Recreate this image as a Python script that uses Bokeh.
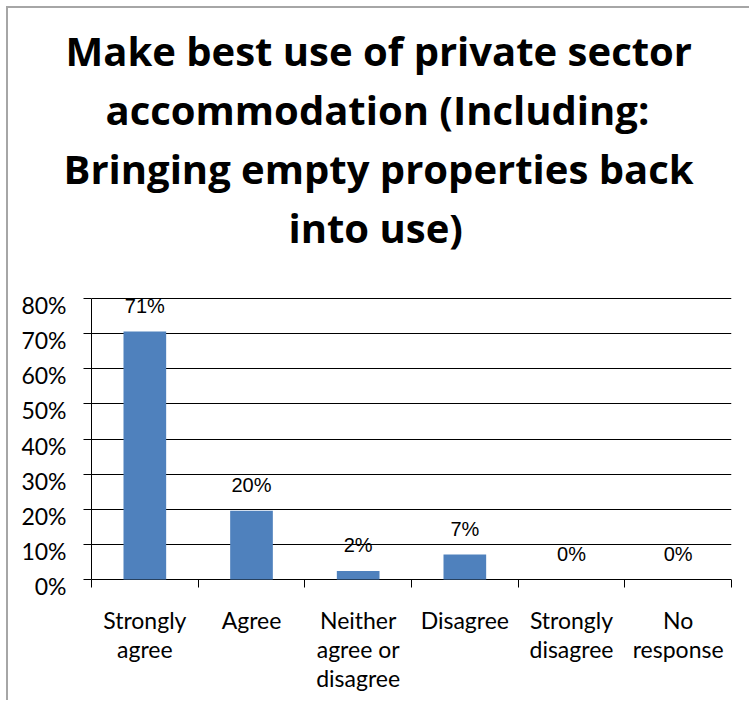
from bokeh.plotting import figure
from bokeh.models import (Range1d, FixedTicker, NumeralTickFormatter, LabelSet, Title,
                          ColumnDataSource, LinearAxis)
from bokeh.core.properties import value
from bokeh.embed import file_html
from bokeh.resources import INLINE

# ---- data ----
categories = ["Strongly agree", "Agree", "Neither agree or disagree",
              "Disagree", "Strongly disagree", "No response"]
category_labels = ["Strongly\nagree", "Agree", "Neither\nagree or\ndisagree",
                   "Disagree", "Strongly\ndisagree", "No\nresponse"]
values = [0.706, 0.196, 0.024, 0.071, 0.0, 0.0]
y_ticks = [0.0, 0.1, 0.2, 0.3, 0.4, 0.5, 0.6, 0.7, 0.8]
title_lines = ["Make best use of private sector",
               "accommodation (Including:",
               "Bringing empty properties back",
               "into use)"]

W, H = 743, 694
FRAME_TOP, GRID_TOP, ZERO_Y, FRAME_BOTTOM = 247, 290, 571, 579   # canvas px
FRAME_LEFT, FRAME_RIGHT = 83, 723

n = len(categories)
centers = [i + 0.5 for i in range(n)]
bounds = [float(i) for i in range(n + 1)]
pct_text = [f"{round(v * 100)}%" for v in values]

src = ColumnDataSource(dict(x=centers, top=values, label=pct_text, cat=categories))

ymax = y_ticks[-1]
per_px = ymax / (ZERO_Y - GRID_TOP)
ystart = -(FRAME_BOTTOM - ZERO_Y) * per_px
yend = ymax + (GRID_TOP - FRAME_TOP) * per_px
drop = 6.5 * per_px                 # tick labels sit a little below their grid lines

p = figure(width=W, height=H, output_backend="svg", toolbar_location=None, title=None,
           x_range=Range1d(0, n), y_range=Range1d(ystart, yend),
           min_border_left=FRAME_LEFT, min_border_right=W - FRAME_RIGHT,
           min_border_top=FRAME_TOP, min_border_bottom=H - FRAME_BOTTOM)
p.extra_y_ranges = {"lab": Range1d(ystart + drop, yend + drop)}
p.outline_line_color = None
p.background_fill_color = "white"
p.border_fill_color = "white"
p.styles = {"margin-left": "6px", "margin-top": "6px",
            "border-left": "2px solid #a6a6a6", "border-top": "2px solid #a6a6a6"}

p.vbar(x="x", top="top", width=0.4, bottom=0, source=src,
       fill_color="#4F81BD", line_color=None)

# grid (the 0% grid line doubles as the category axis line)
p.xgrid.grid_line_color = None
p.ygrid.grid_line_color = "black"
p.ygrid.grid_line_width = 1
p.ygrid.ticker = FixedTicker(ticks=y_ticks)

# y axis (line + tick marks, no labels)
ya = p.yaxis[0]
ya.ticker = FixedTicker(ticks=[], minor_ticks=y_ticks)
ya.bounds = (0, ymax)
ya.axis_line_color = "black"
ya.minor_tick_line_color = "black"
ya.minor_tick_out = 8
ya.minor_tick_in = 0
ya.major_tick_out = 8
ya.major_tick_in = 0
ya.major_label_standoff = 0

# y axis tick labels
yl = LinearAxis(y_range_name="lab", ticker=FixedTicker(ticks=y_ticks, minor_ticks=[]),
                formatter=NumeralTickFormatter(format="0%"))
yl.axis_line_color = None
yl.major_tick_line_color = None
yl.minor_tick_line_color = None
yl.major_tick_out = 0
yl.major_tick_in = 0
yl.major_label_standoff = 17
yl.major_label_text_font = "Lato"
yl.major_label_text_font_size = "23px"
yl.major_label_text_color = "black"
p.add_layout(yl, "left")

# x axis (category boundary ticks hang from the 0% line)
gap = FRAME_BOTTOM - ZERO_Y
xa = p.xaxis[0]
xa.ticker = FixedTicker(ticks=centers, minor_ticks=bounds)
xa.major_label_overrides = {c: lab for c, lab in zip(centers, category_labels)}
xa.axis_line_color = None
xa.major_tick_line_color = None
xa.major_tick_out = 0
xa.major_tick_in = 0
xa.minor_tick_line_color = "black"
xa.minor_tick_out = 8 - gap
xa.minor_tick_in = gap
xa.major_label_standoff = 18
xa.major_label_text_font = "Lato"
xa.major_label_text_font_size = "23px"
xa.major_label_text_line_height = 1.05
xa.major_label_text_color = "black"
xa.major_label_text_align = "center"

# data labels
p.add_layout(LabelSet(x="x", y="top", text="label", source=src, y_offset=19,
                      text_align="center", text_baseline="alphabetic",
                      text_font=value("Liberation Sans"), text_font_size="20px",
                      text_color="black"))

# title: one Title per line, nearest the plot first
lefts = [-26, 14, -28, 197]
for line, off in reversed(list(zip(title_lines, lefts))):
    p.add_layout(Title(text=line, align="left", offset=off, standoff=2,
                       text_font="Open Sans", text_font_size="40px",
                       text_font_style="bold", text_color="black"), "above")

open("out.html", "w").write(file_html(p, INLINE))
